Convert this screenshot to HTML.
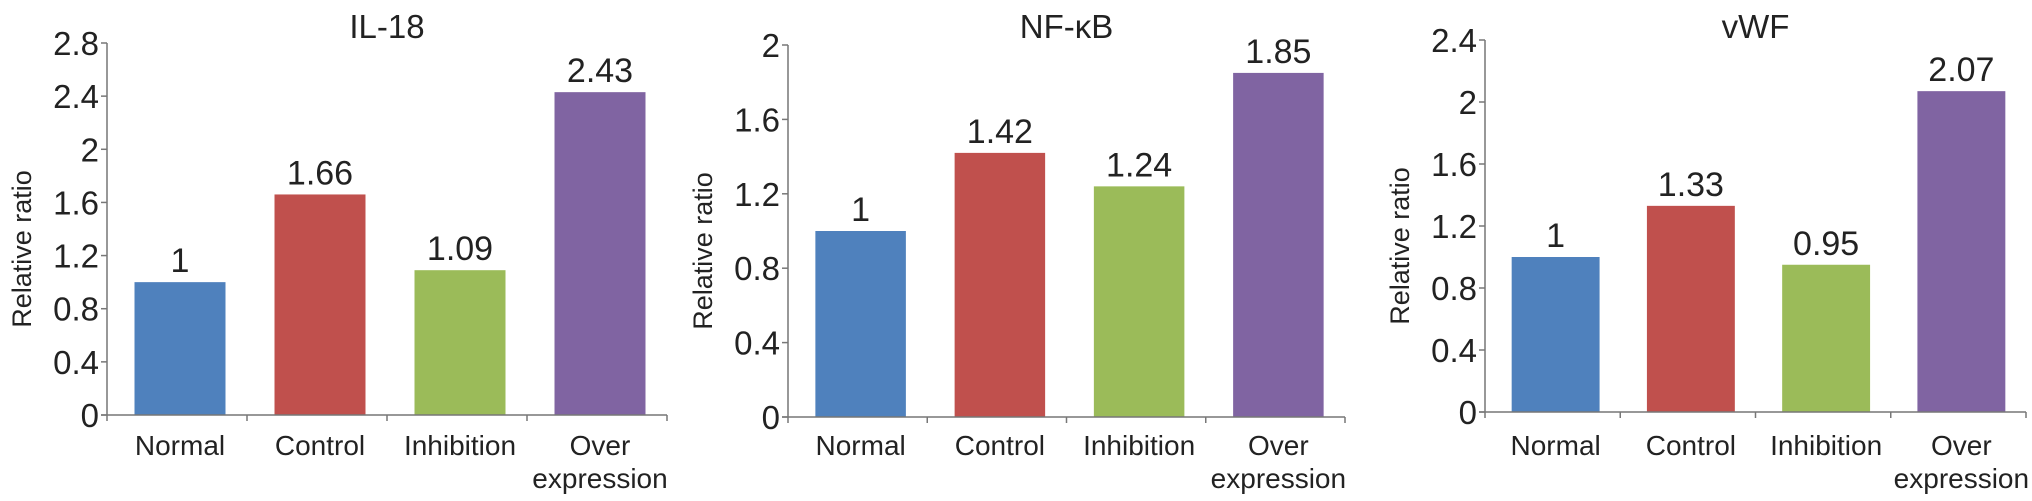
<!DOCTYPE html>
<html><head><meta charset="utf-8"><style>
html,body{margin:0;padding:0;background:#fff;}
svg{display:block;font-family:"Liberation Sans",sans-serif;}
</style></head><body>
<svg id="svg" width="2032" height="501" viewBox="0 0 2032 501"></svg>
<script>
const categories = ["Normal","Control","Inhibition","Over expression"];
const il18Values = [1, 1.66, 1.09, 2.43];
const nfkbValues = [1, 1.42, 1.24, 1.85];
const vwfValues = [1, 1.33, 0.95, 2.07];
const il18Ticks = [0,0.4,0.8,1.2,1.6,2,2.4,2.8];
const nfkbTicks = [0,0.4,0.8,1.2,1.6,2];
const vwfTicks = [0,0.4,0.8,1.2,1.6,2,2.4];
const titles = ["IL-18","NF-κB","vWF"];
const colors = ["#4f81bd","#c0504d","#9bbb59","#8064a2"];
const NS="http://www.w3.org/2000/svg";
const svg=document.getElementById('svg');
function mk(tag,attrs,parent,text){const e=document.createElementNS(NS,tag);for(const k in attrs)e.setAttribute(k,attrs[k]);if(text!==undefined)e.textContent=text;(parent||svg).appendChild(e);return e;}
const panels=[
 {vals:il18Values,ticks:il18Ticks,title:titles[0],x0:107,x1:667,y0:415,y1:43,name:'il18'},
 {vals:nfkbValues,ticks:nfkbTicks,title:titles[1],x0:788,x1:1345,y0:417,y1:45,name:'nfkb'},
 {vals:vwfValues,ticks:vwfTicks,title:titles[2],x0:1485,x1:2026,y0:412,y1:40,name:'vwf'}
];
panels.forEach(p=>{
 const g=mk('g',{});
 
 
 const tmax=p.ticks[p.ticks.length-1];
 const ys=v=>p.y0-(v/tmax)*(p.y0-p.y1);
 const slot=(p.x1-p.x0)/categories.length;
 const t=mk('text',{x:(p.x0+p.x1)/2,y:38,'text-anchor':'middle','font-size':33,fill:'#222'},g,p.title);
 
 
 const yl=mk('text',{x:0,y:0,transform:`translate(${p.x0-76},${(p.y0+p.y1)/2+20}) rotate(-90)`,'text-anchor':'middle','font-size':27,fill:'#222'},g,'Relative ratio');
 
 
 mk('line',{x1:p.x0,y1:p.y1,x2:p.x0,y2:p.y0,stroke:'#777','stroke-width':1.5},g);
 p.ticks.forEach(tv=>{
  const y=ys(tv);
  mk('line',{x1:p.x0-6,y1:y,x2:p.x0,y2:y,stroke:'#777','stroke-width':1.5},g);
  const tl=mk('text',{x:p.x0-8,y:y+12,'text-anchor':'end','font-size':33,fill:'#222'},g,String(tv));
  
  
 });
 p.vals.forEach((v,i)=>{
  const cx=p.x0+slot*(i+0.5)+3;
  const bw=slot*0.65;
  const r=mk('rect',{x:cx-bw/2,y:ys(v),width:bw,height:p.y0-ys(v),fill:colors[i]},g);
  
  
  const vl=mk('text',{x:cx,y:ys(v)-10,'text-anchor':'middle','font-size':34,fill:'#222'},g,String(v));
  
  
  const words=categories[i].split(' ');
  if(words.length>1){
   const w1=mk('text',{x:cx,y:455,'text-anchor':'middle','font-size':28,fill:'#222'},g,words[0]);
   
   
   const w2=mk('text',{x:cx,y:488,'text-anchor':'middle','font-size':28,fill:'#222'},g,'expression');
   
   
  } else {
   const c=mk('text',{x:cx,y:455,'text-anchor':'middle','font-size':28,fill:'#222'},g,categories[i]);
   
   
  }
 });
 mk('line',{x1:p.x0-6,y1:p.y0,x2:p.x1,y2:p.y0,stroke:'#777','stroke-width':1.5},g);
 for(let i=0;i<=categories.length;i++){
  const x=p.x0+slot*i;
  mk('line',{x1:x,y1:p.y0,x2:x,y2:p.y0+6,stroke:'#777','stroke-width':1.5},g);
 }
});
</script>
</body></html>
